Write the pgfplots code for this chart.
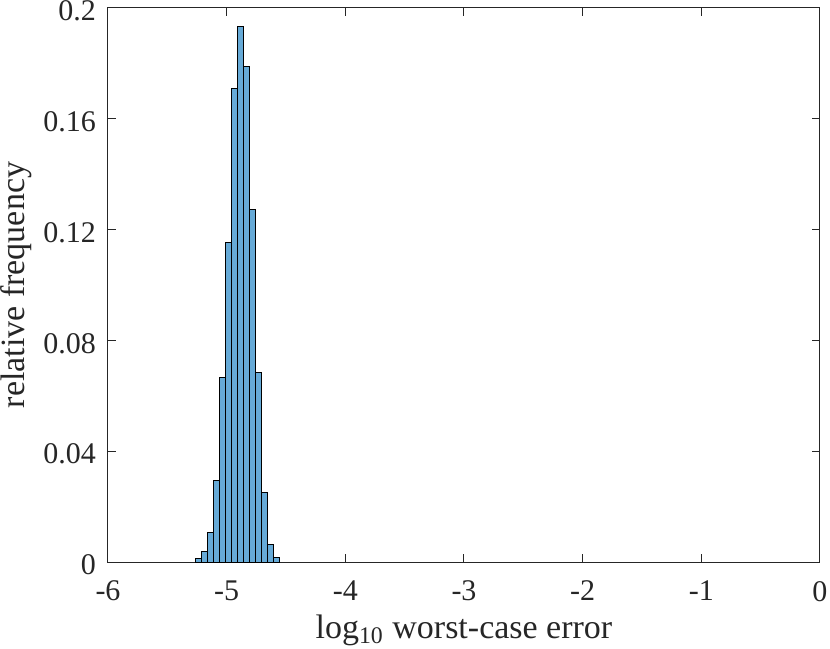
\documentclass[border=0pt]{standalone}
\usepackage{fontspec}
\setmainfont{Liberation Serif}
\usepackage{pgfplots}
\pgfplotsset{compat=1.18}
\definecolor{barfill}{rgb}{0.4,0.668,0.845}
\definecolor{axgray}{rgb}{0.15,0.15,0.15}
\begin{document}
\begin{tikzpicture}
\path[use as bounding box] (-54pt,-43pt) rectangle (361pt,281pt);
\begin{axis}[
  scale only axis,
  width=356pt, height=277pt,
  xmin=-6, xmax=0, ymin=0, ymax=0.2,
  xtick={-6,-5,-4,-3,-2,-1,0},
  ytick={0,0.04,0.08,0.12,0.16,0.2},
  yticklabels={0,0.04,0.08,0.12,0.16,0.2},
  xticklabels={-6,-5,-4,-3,-2,-1,0},
  tick align=inside,
  major tick length=3.8pt,
  axis line style={axgray, line width=0.5pt},
  tick style={axgray, line width=0.5pt},
  ticklabel style={font=\fontsize{15}{18}\selectfont, text=axgray},
  xticklabel style={yshift=-6pt},
  yticklabel style={xshift=-2.5pt, yshift=-1.5pt},
  label style={font=\fontsize{17}{20}\selectfont, text=axgray},
  xlabel={log\textsubscript{10} worst-case error},
  ylabel={relative frequency},
  xlabel style={at={(axis description cs:0.5,-0.1372)}, anchor=base},
  ylabel style={at={(axis description cs:-0.1166,0.5)}, anchor=base},
  /pgf/number format/assume math mode=true,
]
\addplot[ybar interval, fill=barfill, draw=black, line width=0.5pt] coordinates {
(-5.2640,0.0013) (-5.2134,0.0037) (-5.1628,0.0106) (-5.1122,0.0294)
(-5.0616,0.0665) (-5.0110,0.1153) (-4.9604,0.1710) (-4.9098,0.1935)
(-4.8592,0.1788) (-4.8086,0.1273) (-4.7580,0.0683) (-4.7074,0.0250)
(-4.6568,0.0064) (-4.6062,0.0018) (-4.5556,0)
};
\end{axis}
\end{tikzpicture}
\end{document}
